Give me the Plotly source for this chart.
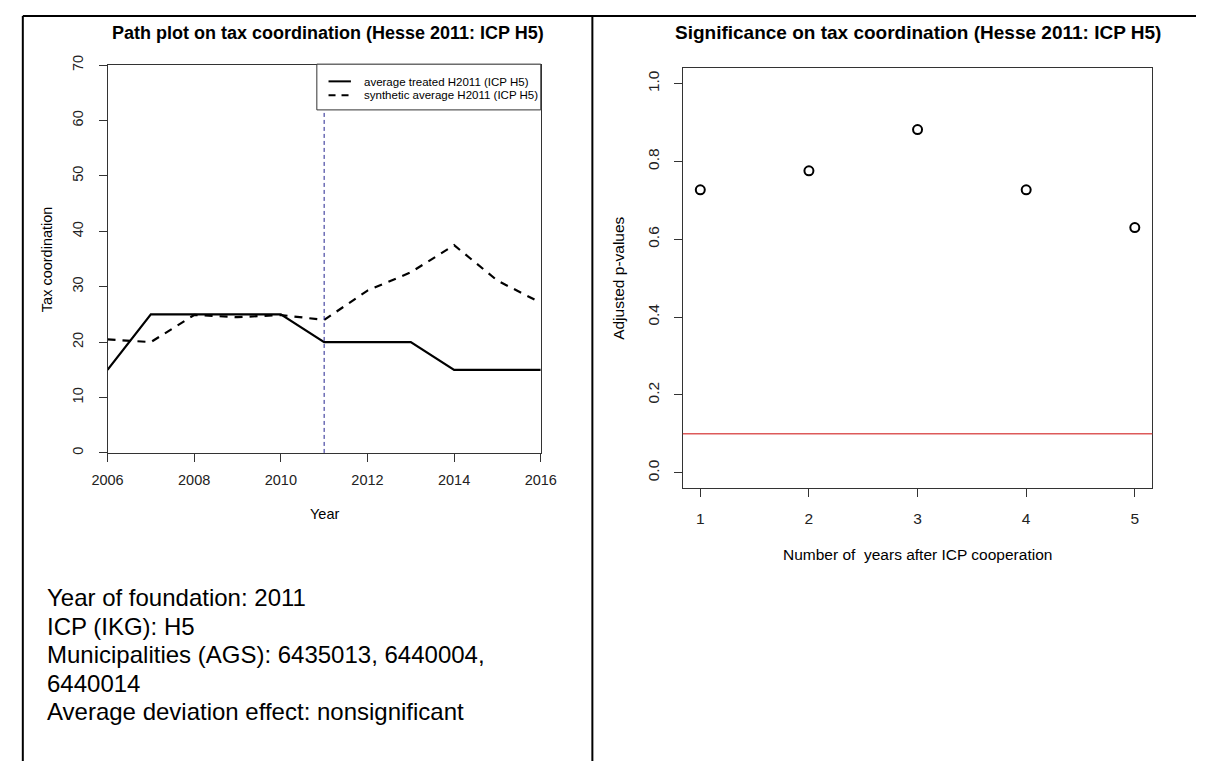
import plotly.graph_objects as go

# ---------------- data ----------------
years = [2006, 2007, 2008, 2009, 2010, 2011, 2012, 2013, 2014, 2015, 2016]
treated = [15, 25, 25, 25, 25, 20, 20, 20, 15, 15, 15]
synthetic = [20.5, 20.0, 24.9, 24.5, 24.9, 24.0, 29.3, 32.6, 37.5, 31.1, 27.1]
treatment_year = 2011
left_xticks = [2006, 2008, 2010, 2012, 2014, 2016]
left_yticks = [0, 10, 20, 30, 40, 50, 60, 70]

years_after = [1, 2, 3, 4, 5]
p_values = [0.727, 0.776, 0.882, 0.727, 0.630]
threshold = 0.1
right_xticks = [1, 2, 3, 4, 5]
right_yticks = [0.0, 0.2, 0.4, 0.6, 0.8, 1.0]
right_yticklabels = ["0.0", "0.2", "0.4", "0.6", "0.8", "1.0"]

legend_labels = ["average treated H2011 (ICP H5)", "synthetic average H2011 (ICP H5)"]
info_lines = [
    "Year of foundation: 2011",
    "ICP (IKG): H5",
    "Municipalities (AGS): 6435013, 6440004,",
    "6440014",
    "Average deviation effect: nonsignificant",
]

W, H = 1212, 763
FONT = "Liberation Sans, Arial, sans-serif"
AX = "#333333"


def px(x):
    return x / W


def py(y):
    return 1 - y / H


fig = go.Figure()

fig.add_trace(go.Scatter(x=years, y=treated, mode="lines",
                         line=dict(color="black", width=2.2),
                         xaxis="x", yaxis="y", showlegend=False))
fig.add_trace(go.Scatter(x=years, y=synthetic, mode="lines",
                         line=dict(color="black", width=2.2, dash="8px,7px"),
                         xaxis="x", yaxis="y", showlegend=False))

fig.add_trace(go.Scatter(x=years_after, y=p_values, mode="markers",
                         marker=dict(symbol="circle-open", size=9, color="black",
                                     line=dict(width=2, color="black")),
                         xaxis="x2", yaxis="y2", showlegend=False))


def axis_style(fs):
    return dict(showgrid=False, zeroline=False, showline=True, mirror=True,
                linecolor=AX, linewidth=1, ticks="outside", ticklen=8,
                tickcolor=AX, tickwidth=1,
                tickfont=dict(family=FONT, size=fs, color="#222"))


fig.update_layout(
    width=W, height=H,
    margin=dict(l=0, r=0, t=0, b=0),
    paper_bgcolor="white", plot_bgcolor="white",
    showlegend=False,
    xaxis=dict(domain=[px(94), px(539)], range=[2006, 2016], tickvals=left_xticks,
               anchor="y", ticklabelstandoff=6, **axis_style(14.5)),
    yaxis=dict(domain=[py(450), py(56)], range=[0, 70], tickvals=left_yticks,
               anchor="x", tickangle=-90, ticklabelstandoff=10, **axis_style(14.5)),
    xaxis2=dict(domain=[px(685), px(1167)], range=[0.84, 5.16], tickvals=right_xticks,
                anchor="y2", ticklabelstandoff=8, **axis_style(15.5)),
    yaxis2=dict(domain=[py(486), py(59)], range=[-0.04, 1.04], tickvals=right_yticks,
                ticktext=right_yticklabels, anchor="x2", tickangle=-90,
                ticklabelstandoff=9, **axis_style(15.5)),
)

shapes = []
# vertical treatment line
shapes.append(dict(type="line", xref="x", yref="y domain", x0=treatment_year, x1=treatment_year,
                   y0=0, y1=1, line=dict(color="#23238f", width=1, dash="4px,3px")))
# significance threshold
shapes.append(dict(type="line", xref="x2 domain", yref="y2", x0=0, x1=1,
                   y0=threshold, y1=threshold, line=dict(color="#dd5a5a", width=1.5)))
# legend box
shapes.append(dict(type="rect", xref="paper", yref="paper", x0=px(309), x1=px(539),
                   y0=py(101.5), y1=py(55), line=dict(color=AX, width=1),
                   fillcolor="white", layer="above"))
shapes.append(dict(type="line", xref="paper", yref="paper", x0=px(321), x1=px(344),
                   y0=py(72.5), y1=py(72.5), line=dict(color="black", width=2)))
shapes.append(dict(type="line", xref="paper", yref="paper", x0=px(321), x1=px(344),
                   y0=py(86.5), y1=py(86.5), line=dict(color="black", width=2, dash="7px,6px")))
# table borders
shapes.append(dict(type="line", xref="paper", yref="paper", x0=px(7), x1=1,
                   y0=py(6), y1=py(6), line=dict(color="black", width=2)))
shapes.append(dict(type="line", xref="paper", yref="paper", x0=px(7), x1=px(7),
                   y0=py(6), y1=0, line=dict(color="black", width=2)))
shapes.append(dict(type="line", xref="paper", yref="paper", x0=px(592), x1=px(592),
                   y0=py(6), y1=0, line=dict(color="black", width=2)))
fig.update_layout(shapes=shapes)

ann = []


def text(x, y, s, size, bold=False, angle=0, xanchor="center"):
    ann.append(dict(x=px(x), y=py(y), xref="paper", yref="paper", text=("<b>%s</b>" % s) if bold else s,
                    showarrow=False, xanchor=xanchor, yanchor="middle", textangle=angle,
                    font=dict(family=FONT, size=size, color="black")))


text(320, 23, "Path plot on tax coordination (Hesse 2011: ICP H5)", 18, bold=True)
text(926, 23, "Significance on tax coordination (Hesse 2011: ICP H5)", 19, bold=True)
text(317, 512.5, "Year", 14.5)
text(32, 253, "Tax coordination", 14.5, angle=-90)
text(926, 553, "Number of  years after ICP cooperation", 15.5)
text(619, 272.5, "Adjusted p-values", 15.5, angle=-90)
text(355, 72.8, legend_labels[0], 11.5, xanchor="left")
text(355, 86.7, legend_labels[1], 11.5, xanchor="left")
for i, line in enumerate(info_lines):
    text(30, 597 + i * 29, line, 24, xanchor="left")

fig.update_layout(annotations=ann)
fig.write_html("out.html", include_plotlyjs=True,
               post_script="document.body.style.margin='0';document.body.style.padding='0';")
